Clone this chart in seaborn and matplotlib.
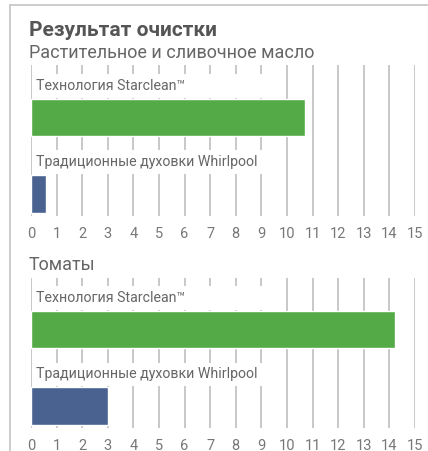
import matplotlib
matplotlib.use('Agg')
import matplotlib.pyplot as plt
from matplotlib.patches import Rectangle
from matplotlib.lines import Line2D
import pandas as pd
import seaborn as sns

title = 'Результат очистки'
panels = ['Растительное и сливочное масло', 'Томаты']
methods = ['Технология Starclean\u2122', 'Традиционные духовки Whirlpool']
oil_values = [10.7, 0.6]
tomato_values = [14.2, 3.0]
colors = ['#55aa48', '#4a6290']
ticks = list(range(16))

sns.set_style('white')
plt.rcParams['font.family'] = ['Roboto', 'DejaVu Sans']

W, H = 428, 452
fig = plt.figure(figsize=(W / 100, H / 100), dpi=100)

def px(x0, y0, x1, y1):
    # pixel box (top-left origin) -> figure fraction rect
    return [x0 / W, 1 - y1 / H, (x1 - x0) / W, (y1 - y0) / H]

# card frame
fig.add_artist(Line2D([9.5 / W, 1], [1 - 5.5 / H, 1 - 5.5 / H], color='#c8c8c8', lw=1.3))
fig.add_artist(Line2D([9.5 / W, 9.5 / W], [0, 1 - 5.5 / H], color='#c8c8c8', lw=1.3))

fig.text(29 / W, 1 - 30 / H, title, fontsize=15, fontweight='bold', color='#555555', va='center')

boxes = [(31, 66, 415, 217), (31, 278.5, 415, 429)]
label_y = [53, 265]
for i, vals in enumerate([oil_values, tomato_values]):
    fig.text(29 / W, 1 - label_y[i] / H, panels[i], fontsize=13, color='#666666', va='center')
    ax = fig.add_axes(px(*boxes[i]))
    df = pd.DataFrame({'method': methods, 'value': vals})
    sns.barplot(data=df, x='value', y='method', hue='method', palette=colors,
                orient='h', width=0.49, legend=False, ax=ax, saturation=1)
    ax.set_xlim(0, 15)
    ax.set_ylim(1.288, -0.686)
    ax.set_xticks(ticks)
    ax.set_yticks([])
    ax.set_xlabel('')
    ax.set_ylabel('')
    ax.grid(axis='x', color='#c8c8c8', lw=1.4)
    ax.grid(axis='y', visible=False)
    ax.set_axisbelow(True)
    for s in ax.spines.values():
        s.set_visible(False)
    ax.tick_params(axis='x', length=0, pad=7.5, labelsize=10.5, labelcolor='#777777')
    for j, m in enumerate(methods):
        ax.add_patch(Rectangle((0.12, j - 0.57), 9.4, 0.31, facecolor='white',
                               edgecolor='none', zorder=1))
        ax.text(0.2, j - 0.43, m, fontsize=10.2, color='#666666', va='center', zorder=3)

fig.savefig('out.png', dpi=100)
